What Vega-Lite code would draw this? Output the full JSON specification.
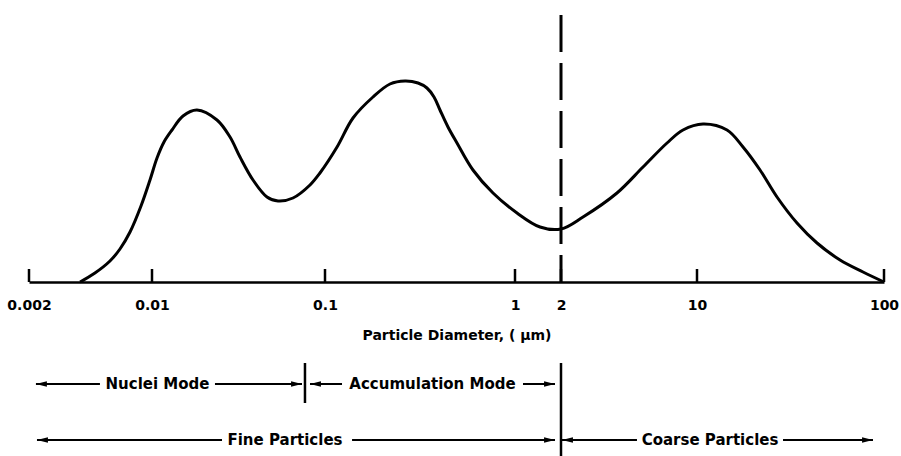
{
  "$schema": "https://vega.github.io/schema/vega-lite/v6.json",
  "width": 855,
  "height": 267,
  "autosize": {"type": "none"},
  "padding": {"left": 29, "top": 15, "right": 17, "bottom": 174},
  "background": "white",
  "config": {"view": {"stroke": null}, "font": "DejaVu Sans"},
  "datasets": {
    "curve": [
      {"d": 0.0039, "h": 0}, {"d": 0.00474, "h": 9}, {"d": 0.00577, "h": 21}, {"d": 0.006576, "h": 33},
      {"d": 0.0075, "h": 50}, {"d": 0.008659, "h": 76}, {"d": 0.00974, "h": 102}, {"d": 0.01069, "h": 124},
      {"d": 0.01173, "h": 140}, {"d": 0.01305, "h": 152}, {"d": 0.01511, "h": 166}, {"d": 0.0182, "h": 172},
      {"d": 0.02375, "h": 162}, {"d": 0.02825, "h": 145},
      {"d": 0.03226, "h": 125}, {"d": 0.03836, "h": 102}, {"d": 0.04621, "h": 85}, {"d": 0.05351, "h": 81},
      {"d": 0.06531, "h": 84}, {"d": 0.0819, "h": 97}, {"d": 0.0935, "h": 109}, {"d": 0.1157, "h": 135},
      {"d": 0.1404, "h": 164}, {"d": 0.1789, "h": 185}, {"d": 0.2198, "h": 198}, {"d": 0.2636, "h": 201},
      {"d": 0.3087, "h": 199}, {"d": 0.344, "h": 194}, {"d": 0.3747, "h": 185}, {"d": 0.4029, "h": 172},
      {"d": 0.4439, "h": 155}, {"d": 0.4951, "h": 139},
      {"d": 0.6009, "h": 112}, {"d": 0.766, "h": 89}, {"d": 1.031, "h": 69}, {"d": 1.458, "h": 55},
      {"d": 2.0, "h": 53}, {"d": 2.595, "h": 65}, {"d": 3.879, "h": 89}, {"d": 5.279, "h": 115},
      {"d": 7.013, "h": 139}, {"d": 8.475, "h": 152}, {"d": 10.77, "h": 158}, {"d": 14.47, "h": 152},
      {"d": 17.62, "h": 135}, {"d": 21.73, "h": 112}, {"d": 26.78, "h": 85}, {"d": 34.26, "h": 59},
      {"d": 43.83, "h": 39}, {"d": 58.19, "h": 22}, {"d": 77.23, "h": 10}, {"d": 100, "h": 0}
    ],
    "ticks": [
      {"d": 0.002, "h": 0, "h2": 13}, {"d": 0.01, "h": 0, "h2": 13}, {"d": 0.1, "h": 0, "h2": 13},
      {"d": 1, "h": 0, "h2": 13}, {"d": 2, "h": 0, "h2": 13}, {"d": 10, "h": 0, "h2": 13}, {"d": 100, "h": 0, "h2": 13}
    ],
    "dashed": [{"d": 2, "h": 267, "h2": 0}],
    "bars": [{"d": 2, "h": -81, "h2": -174}, {"d": 0.0766, "h": -81, "h2": -121}],
    "segs": [
      {"d": 0.00219, "d2": 0.00506, "h": -102}, {"d": 0.02312, "d2": 0.07362, "h": -102},
      {"d": 0.0819, "d2": 0.1229, "h": -102}, {"d": 1.128, "d2": 1.827, "h": -102},
      {"d": 0.00222, "d2": 0.02539, "h": -158}, {"d": 0.1388, "d2": 1.827, "h": -158},
      {"d": 2.023, "d2": 4.915, "h": -158}, {"d": 28.84, "d2": 87.33, "h": -158}
    ],
    "heads": [
      {"d": 0.00219, "h": -102, "dir": "left"}, {"d": 0.07362, "h": -102, "dir": "right"},
      {"d": 0.0819, "h": -102, "dir": "left"}, {"d": 1.827, "h": -102, "dir": "right"},
      {"d": 0.00222, "h": -158, "dir": "left"}, {"d": 1.827, "h": -158, "dir": "right"},
      {"d": 2.023, "h": -158, "dir": "left"}, {"d": 87.33, "h": -158, "dir": "right"}
    ],
    "labels": [
      {"d": 0.01076, "h": -102, "label": "Nuclei Mode"},
      {"d": 0.368, "h": -102, "label": "Accumulation Mode"},
      {"d": 0.0587, "h": -158, "label": "Fine Particles"},
      {"d": 11.74, "h": -158, "label": "Coarse Particles"}
    ]
  },
  "encoding": {
    "x": {
      "field": "d",
      "type": "quantitative",
      "scale": {
        "type": "log",
        "domain": [0.002, 0.01, 0.1, 1, 2, 10, 100],
        "range": [0, 123, 296, 486, 532, 668, 855],
        "nice": false
      },
      "axis": {
        "values": [0.002, 0.01, 0.1, 1, 2, 10, 100],
        "labelExpr": "'' + datum.value",
        "ticks": false,
        "tickSize": 0,
        "grid": false,
        "domainColor": "black",
        "domainWidth": 2.5,
        "labelFont": "DejaVu Sans",
        "labelFontWeight": "bold",
        "labelFontSize": 14,
        "labelColor": "black",
        "labelPadding": 16,
        "labelFlush": false,
        "labelOverlap": false,
        "title": "Particle Diameter, ( µm)",
        "titleFont": "DejaVu Sans",
        "titleFontWeight": "bold",
        "titleFontSize": 14,
        "titleColor": "black",
        "titlePadding": 16
      }
    },
    "y": {
      "field": "h",
      "type": "quantitative",
      "scale": {"domain": [0, 267], "nice": false},
      "axis": null
    }
  },
  "layer": [
    {
      "data": {"name": "curve"},
      "mark": {"type": "line", "color": "black", "strokeWidth": 3, "interpolate": "catmull-rom"}
    },
    {
      "data": {"name": "ticks"},
      "mark": {"type": "rule", "color": "black", "strokeWidth": 2.5},
      "encoding": {"y2": {"field": "h2"}}
    },
    {
      "data": {"name": "dashed"},
      "mark": {"type": "rule", "color": "black", "strokeWidth": 3, "strokeDash": [37, 11]},
      "encoding": {"y2": {"field": "h2"}}
    },
    {
      "data": {"name": "bars"},
      "mark": {"type": "rule", "color": "black", "strokeWidth": 2.5},
      "encoding": {"y2": {"field": "h2"}}
    },
    {
      "data": {"name": "segs"},
      "mark": {"type": "rule", "color": "black", "strokeWidth": 2},
      "encoding": {"x2": {"field": "d2"}}
    },
    {
      "data": {"name": "heads"},
      "mark": {"type": "point", "filled": true, "color": "black", "size": 120, "opacity": 1, "strokeWidth": 0},
      "encoding": {
        "shape": {
          "field": "dir",
          "type": "nominal",
          "scale": {"domain": ["left", "right"], "range": ["M0,0L2,-0.5L2,0.5Z", "M0,0L-2,-0.5L-2,0.5Z"]},
          "legend": null
        }
      }
    },
    {
      "data": {"name": "labels"},
      "mark": {"type": "text", "color": "black", "font": "DejaVu Sans", "fontWeight": "bold", "fontSize": 15, "align": "center", "baseline": "middle"},
      "encoding": {"text": {"field": "label"}}
    }
  ]
}
